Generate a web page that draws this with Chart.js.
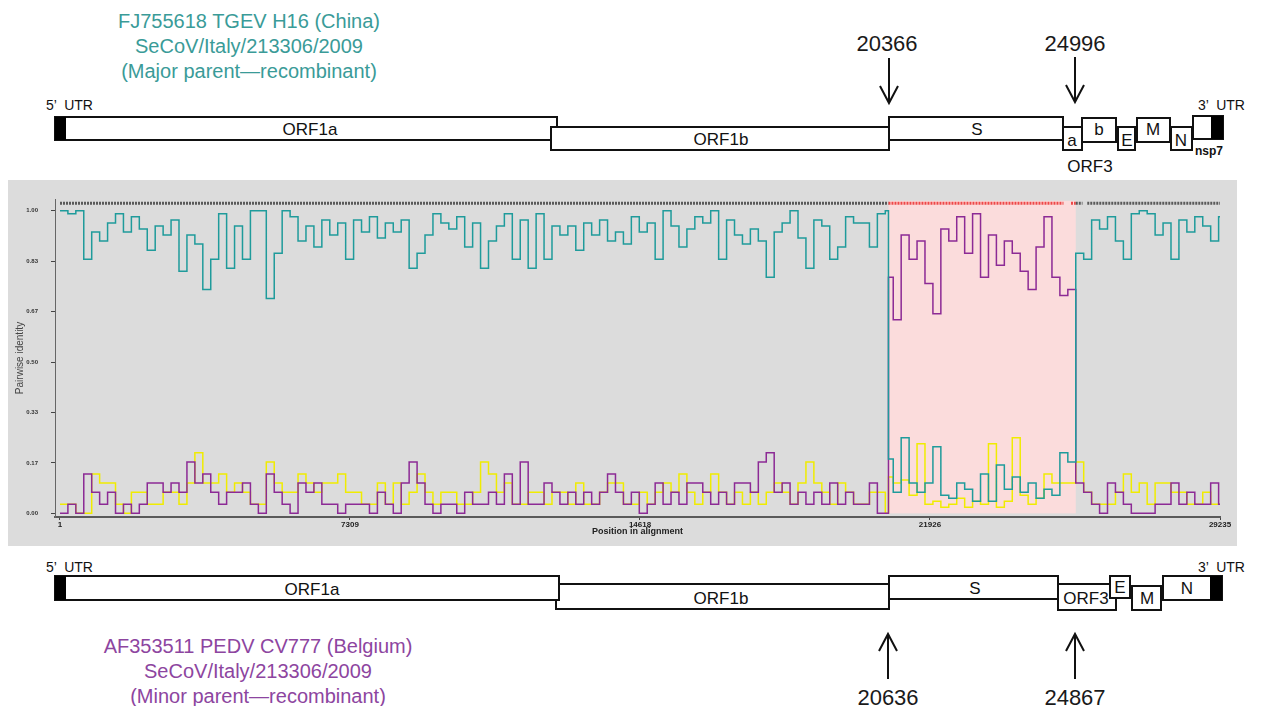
<!DOCTYPE html>
<html>
<head>
<meta charset="utf-8">
<script src="https://cdn.jsdelivr.net/npm/chart.js@4.4.0/dist/chart.umd.min.js"></script>
<style>
  body { margin: 0; width: 1262px; height: 706px; overflow: hidden; position: relative; background: #fff;
         font-family: "Liberation Sans", Arial, sans-serif; }
  #panel { position: absolute; left: 8px; top: 180px; width: 1229px; height: 366px; background: #dcdcdc; }
  svg { position: absolute; left: 0; top: 0; }
  svg rect.box { fill: #fff; stroke: #111; stroke-width: 2; }
  svg rect.utr { fill: #000; }
  svg text { font-family: "Liberation Sans", Arial, sans-serif; fill: #111; text-anchor: middle; dominant-baseline: central; }
  svg .orf { font-size: 17px; }
  svg .utrlab { font-size: 14px; text-anchor: start; white-space: pre; }
  svg .pos { font-size: 22px; fill: #1a1a1a; }
  svg .major { font-size: 20px; fill: #3a9b98; }
  svg .minor { font-size: 20px; fill: #8d45a0; }
  svg .arrow { stroke: #111; stroke-width: 2; fill: none; }
</style>
</head>
<body>

<svg width="1262" height="706">
  <!-- parent labels -->
  <text class="major" x="249" y="21">FJ755618 TGEV H16 (China)</text>
  <text class="major" x="249" y="46">SeCoV/Italy/213306/2009</text>
  <text class="major" x="249" y="71">(Major parent—recombinant)</text>

  <text class="minor" x="258" y="646">AF353511 PEDV CV777 (Belgium)</text>
  <text class="minor" x="258" y="671">SeCoV/Italy/213306/2009</text>
  <text class="minor" x="258" y="696">(Minor parent—recombinant)</text>

  <!-- top genome map -->
  <text class="utrlab" x="46" y="105" xml:space="preserve">5’  UTR</text>
  <text class="utrlab" x="1198" y="105" xml:space="preserve">3’  UTR</text>
  <rect class="box" x="55" y="117" width="502" height="23"/>
  <rect class="utr" x="55" y="117" width="11" height="23"/>
  <rect class="box" x="551" y="127" width="338" height="23"/>
  <rect class="box" x="889" y="117" width="174" height="23"/>
  <rect class="box" x="1063" y="127" width="19" height="23"/>
  <rect class="box" x="1082" y="118" width="34" height="24"/>
  <rect class="box" x="1118" y="127" width="17" height="23"/>
  <rect class="box" x="1137" y="118" width="33" height="24"/>
  <rect class="box" x="1171" y="127" width="21" height="23"/>
  <rect class="box" x="1193" y="116" width="30" height="23"/>
  <rect class="utr" x="1211" y="116" width="12" height="23"/>
  <text class="orf" x="310" y="129">ORF1a</text>
  <text class="orf" x="721" y="139">ORF1b</text>
  <text class="orf" x="977" y="129">S</text>
  <text class="orf" x="1072" y="140">a</text>
  <text class="orf" x="1099" y="129">b</text>
  <text class="orf" x="1127" y="140">E</text>
  <text class="orf" x="1153" y="129">M</text>
  <text class="orf" x="1181" y="140">N</text>
  <text class="orf" x="1090" y="166">ORF3</text>
  <text x="1209" y="151" style="font-size:12px;font-weight:bold">nsp7</text>

  <text class="pos" x="887" y="43">20366</text>
  <line class="arrow" x1="889" y1="58" x2="889" y2="102"/>
  <polyline class="arrow" points="880,86 889,103 898,86"/>
  <text class="pos" x="1075" y="43">24996</text>
  <line class="arrow" x1="1075" y1="57" x2="1075" y2="101"/>
  <polyline class="arrow" points="1066,85 1075,102 1084,85"/>

  <!-- bottom genome map -->
  <text class="utrlab" x="46" y="567" xml:space="preserve">5’  UTR</text>
  <text class="utrlab" x="1198" y="567" xml:space="preserve">3’  UTR</text>
  <rect class="box" x="556" y="584" width="333" height="25"/>
  <rect class="box" x="55" y="576" width="504" height="24"/>
  <rect class="utr" x="55" y="576" width="11" height="24"/>
  <rect class="box" x="889" y="576" width="169" height="23"/>
  <rect class="box" x="1058" y="584" width="58" height="26"/>
  <rect class="box" x="1110" y="576" width="20" height="22"/>
  <rect class="box" x="1132" y="586" width="29" height="24"/>
  <rect class="box" x="1163" y="576" width="59" height="24"/>
  <rect class="utr" x="1210" y="576" width="12" height="24"/>
  <text class="orf" x="312" y="589">ORF1a</text>
  <text class="orf" x="721" y="598">ORF1b</text>
  <text class="orf" x="975" y="588">S</text>
  <text class="orf" x="1086" y="598">ORF3</text>
  <text class="orf" x="1120" y="587">E</text>
  <text class="orf" x="1147" y="598">M</text>
  <text class="orf" x="1187" y="588">N</text>

  <line class="arrow" x1="888" y1="635" x2="888" y2="679"/>
  <polyline class="arrow" points="879,651 888,634 897,651"/>
  <text class="pos" x="888" y="697">20636</text>
  <line class="arrow" x1="1075" y1="635" x2="1075" y2="679"/>
  <polyline class="arrow" points="1066,651 1075,634 1084,651"/>
  <text class="pos" x="1075" y="697">24867</text>
</svg>

<div id="panel"><canvas id="rdp"></canvas></div>

<script>
// window positions in the alignment
const positions = [
  1, 200, 400, 600, 800, 1000, 1200, 1400, 1600, 1800,
  2000, 2200, 2400, 2600, 2800, 3000, 3200, 3400, 3600, 3800,
  4000, 4200, 4400, 4600, 4800, 5000, 5200, 5400, 5600, 5800,
  6000, 6200, 6400, 6600, 6800, 7000, 7200, 7400, 7600, 7800,
  8000, 8200, 8400, 8600, 8800, 9000, 9200, 9400, 9600, 9800,
  10000, 10200, 10400, 10600, 10800, 11000, 11200, 11400, 11600, 11800,
  12000, 12200, 12400, 12600, 12800, 13000, 13200, 13400, 13600, 13800,
  14000, 14200, 14400, 14600, 14800, 15000, 15200, 15400, 15600, 15800,
  16000, 16200, 16400, 16600, 16800, 17000, 17200, 17400, 17600, 17800,
  18000, 18200, 18400, 18600, 18800, 19000, 19200, 19400, 19600, 19800,
  20000, 20200, 20400, 20600, 20800,
  20880,
  21000, 21200, 21400, 21600, 21800, 22000, 22200, 22400, 22600, 22800,
  23000, 23200, 23400, 23600, 23800, 24000, 24200, 24400, 24600, 24800,
  25000, 25200, 25400, 25600, 25800, 26000, 26200, 26400, 26600, 26800,
  27000, 27200, 27400, 27600, 27800, 28000, 28200, 28400, 28600, 28800,
  29000, 29200,
  29235
];

// major parent vs recombinant (teal)
const majorVsRecomb = [
  1.00, 0.99, 1.00, 0.84, 0.93, 0.90, 0.96, 0.99, 0.93, 0.98,
  0.94, 0.87, 0.95, 0.92, 0.97, 0.80, 0.92, 0.89, 0.74, 0.84,
  0.99, 0.81, 0.95, 0.84, 1.00, 1.00, 0.71, 0.86, 1.00, 0.98,
  0.90, 0.95, 0.88, 0.97, 0.92, 0.96, 0.84, 0.97, 0.93, 0.98,
  0.91, 0.96, 0.93, 0.97, 0.81, 0.86, 0.92, 0.99, 0.96, 0.94,
  0.98, 0.88, 0.96, 0.81, 0.90, 0.95, 0.99, 0.84, 0.97, 0.81,
  0.99, 0.84, 0.95, 0.92, 0.95, 0.87, 0.96, 0.92, 0.97, 0.90,
  0.93, 0.89, 0.98, 0.93, 0.96, 0.84, 1.00, 0.95, 0.88, 0.94,
  0.98, 0.96, 1.00, 0.84, 0.97, 0.92, 0.89, 0.94, 0.90, 0.78,
  0.93, 0.96, 1.00, 0.91, 0.81, 0.97, 0.95, 0.84, 0.88, 0.98,
  0.96, 0.96, 0.88, 0.99, 1.00,
  0.18,
  0.07, 0.25, 0.10, 0.07, 0.10, 0.22, 0.06, 0.05, 0.10, 0.08,
  0.04, 0.13, 0.04, 0.16, 0.08, 0.12, 0.07, 0.10, 0.05, 0.08,
  0.06, 0.20, 0.17, 0.86, 0.84, 0.97, 0.94, 0.98, 0.90, 0.84,
  0.99, 1.00, 0.99, 0.92, 0.96, 0.84, 0.97, 0.93, 0.98, 0.95,
  0.90, 0.98,
  0.98
];

// minor parent vs recombinant (purple)
const minorVsRecomb = [
  0.00, 0.03, 0.00, 0.13, 0.07, 0.03, 0.07, 0.00, 0.03, 0.00,
  0.03, 0.10, 0.10, 0.07, 0.10, 0.07, 0.17, 0.10, 0.13, 0.07,
  0.03, 0.07, 0.07, 0.10, 0.03, 0.00, 0.13, 0.07, 0.03, 0.00,
  0.10, 0.07, 0.10, 0.03, 0.03, 0.00, 0.03, 0.03, 0.03, 0.00,
  0.07, 0.03, 0.00, 0.10, 0.17, 0.10, 0.03, 0.00, 0.03, 0.03,
  0.00, 0.07, 0.03, 0.03, 0.07, 0.03, 0.13, 0.03, 0.17, 0.03,
  0.03, 0.10, 0.07, 0.03, 0.07, 0.03, 0.07, 0.03, 0.07, 0.13,
  0.07, 0.03, 0.07, 0.00, 0.03, 0.10, 0.03, 0.07, 0.03, 0.10,
  0.10, 0.07, 0.03, 0.07, 0.03, 0.10, 0.10, 0.07, 0.17, 0.20,
  0.07, 0.10, 0.03, 0.07, 0.03, 0.07, 0.03, 0.10, 0.03, 0.07,
  0.03, 0.03, 0.10, 0.00, 0.00,
  0.78,
  0.64, 0.92, 0.84, 0.90, 0.76, 0.66, 0.94, 0.90, 0.98, 0.86,
  0.99, 0.78, 0.92, 0.82, 0.90, 0.86, 0.80, 0.74, 0.88, 0.98,
  0.78, 0.72, 0.74, 0.10, 0.07, 0.03, 0.00, 0.10, 0.07, 0.03,
  0.00, 0.00, 0.00, 0.03, 0.03, 0.10, 0.03, 0.07, 0.03, 0.03,
  0.10, 0.03,
  0.03
];

// major parent vs minor parent (yellow)
const majorVsMinor = [
  0.03, 0.03, 0.00, 0.00, 0.13, 0.10, 0.10, 0.03, 0.00, 0.07,
  0.07, 0.03, 0.03, 0.07, 0.07, 0.03, 0.10, 0.20, 0.10, 0.10,
  0.13, 0.07, 0.10, 0.07, 0.03, 0.03, 0.17, 0.10, 0.07, 0.07,
  0.13, 0.10, 0.07, 0.10, 0.10, 0.13, 0.07, 0.07, 0.03, 0.03,
  0.10, 0.03, 0.10, 0.03, 0.07, 0.13, 0.07, 0.03, 0.07, 0.07,
  0.03, 0.03, 0.07, 0.17, 0.13, 0.07, 0.10, 0.03, 0.03, 0.07,
  0.07, 0.03, 0.07, 0.07, 0.03, 0.10, 0.03, 0.03, 0.07, 0.10,
  0.10, 0.03, 0.03, 0.07, 0.03, 0.07, 0.10, 0.07, 0.13, 0.07,
  0.03, 0.07, 0.13, 0.07, 0.03, 0.07, 0.03, 0.07, 0.03, 0.07,
  0.10, 0.07, 0.03, 0.10, 0.17, 0.10, 0.07, 0.03, 0.10, 0.07,
  0.03, 0.03, 0.07, 0.07, 0.00,
  0.12,
  0.10, 0.11, 0.06, 0.23, 0.03, 0.04, 0.02, 0.03, 0.05, 0.02,
  0.04, 0.03, 0.23, 0.02, 0.04, 0.25, 0.06, 0.03, 0.05, 0.13,
  0.10, 0.10, 0.10, 0.17, 0.07, 0.03, 0.03, 0.03, 0.07, 0.13,
  0.07, 0.10, 0.03, 0.10, 0.10, 0.07, 0.07, 0.03, 0.03, 0.07,
  0.03, 0.03,
  0.03
];

// recombinant region (alignment coordinates)
const recombRegion = [20880, 25600];

// coverage strip along the top (null = gap)
const stripX = [1, 20880, 25290, 25380, 25480, 25600, 25770, 25830, 25890, 29235];
const stripY = [1.025, 1.025, 1.025, null, 1.025, 1.025, 1.025, null, 1.025, 1.025];

const xTicks = [1, 7309, 14618, 21926, 29235];
const yTicks = [0, 0.1667, 0.3333, 0.5, 0.6667, 0.8333, 1];
const yTickLabels = ['0.00', '0.17', '0.33', '0.50', '0.67', '0.83', '1.00'];

const pts = arr => positions.map((x, i) => ({ x: x, y: arr[i] }));
const inRegion = x => x >= recombRegion[0] && x < recombRegion[1];

const bandPlugin = {
  id: 'recombBand',
  beforeDatasetsDraw(chart) {
    const { ctx, scales: { x, y } } = chart;
    const x0 = x.getPixelForValue(recombRegion[0]);
    const x1 = x.getPixelForValue(recombRegion[1]);
    const yTop = y.getPixelForValue(1.033);
    const yBot = y.getPixelForValue(0);
    ctx.save();
    ctx.fillStyle = '#fbdcdc';
    ctx.fillRect(x0, yTop, x1 - x0, yBot - yTop);
    ctx.restore();
  }
};

const fam = '"Liberation Sans", Arial, sans-serif';

new Chart(document.getElementById('rdp'), {
  type: 'line',
  data: {
    datasets: [
      { label: 'major', data: pts(majorVsRecomb), borderColor: '#1f9b9b', stepped: true },
      { label: 'minor', data: pts(minorVsRecomb), borderColor: '#8c2a95', stepped: true },
      { label: 'majorMinor', data: pts(majorVsMinor), borderColor: '#f0ec00', stepped: true },
      {
        label: 'strip',
        data: stripX.map((x, i) => ({ x: x, y: stripY[i] })),
        borderColor: '#5a5a5a', borderWidth: 3, borderDash: [2, 1], spanGaps: false,
        segment: { borderColor: c => inRegion(c.p0.parsed.x) ? '#ee4848' : '#5a5a5a' }
      }
    ]
  },
  options: {
    responsive: true,
    maintainAspectRatio: false,
    animation: false,
    layout: { padding: { top: 19, right: 17, left: 0, bottom: 0 } },
    plugins: { legend: { display: false }, tooltip: { enabled: false } },
    elements: { point: { radius: 0 }, line: { borderWidth: 1.5, tension: 0 } },
    scales: {
      x: {
        type: 'linear', min: -125, max: 29235,
        afterBuildTicks: s => { s.ticks = xTicks.map(v => ({ value: v })); },
        afterFit: s => { s.height = 29; },
        grid: { drawOnChartArea: false, drawTicks: true, tickLength: 3, color: '#444' },
        border: { display: true, color: '#5a5a5a', width: 2 },
        ticks: { autoSkip: false, maxRotation: 0, padding: 0, color: '#222',
                 font: { family: fam, size: 8, weight: 'bold' }, callback: v => String(v) },
        title: { display: true, text: 'Position in alignment', color: '#222',
                 font: { family: fam, size: 9, weight: 'bold' }, padding: { top: 0, bottom: 9 } }
      },
      y: {
        min: -0.012, max: 1.039,
        afterBuildTicks: s => { s.ticks = yTicks.map(v => ({ value: v })); },
        afterFit: s => { s.width = 47; },
        grid: { drawOnChartArea: false, drawTicks: true, tickLength: 4, color: '#444' },
        border: { display: true, color: '#666', width: 1 },
        ticks: { autoSkip: false, padding: 13, color: '#333',
                 font: { family: fam, size: 6, weight: 'bold' }, callback: (v, i) => yTickLabels[i] },
        title: { display: true, text: 'Pairwise identity', color: '#444',
                 font: { family: fam, size: 10 }, padding: { top: 6, bottom: 0 } }
      }
    }
  },
  plugins: [bandPlugin]
});
</script>
</body>
</html>
